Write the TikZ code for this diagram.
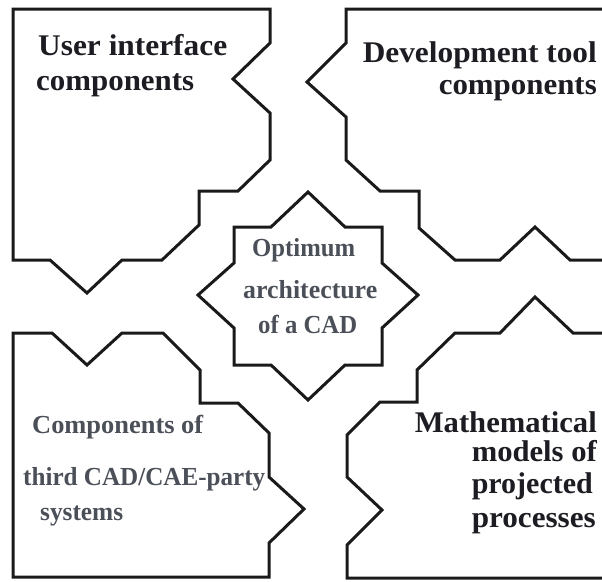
\documentclass[tikz,border=0pt]{standalone}
\usepackage{fontspec}
\setmainfont{Liberation Serif}
\usepackage{graphicx}
\newcommand\fitw[2]{\resizebox{#1pt}{\height}{#2}}
\definecolor{ink}{HTML}{1C1C22}
\definecolor{grayink}{HTML}{4B4F58}
\definecolor{edge}{HTML}{1A1A1A}
\tikzset{
  piece/.style={draw=edge, line width=3pt, line join=miter},
  bigtxt/.style={inner sep=0pt, text=ink, font=\bfseries\fontsize{30}{30}\selectfont},
  midtxt/.style={inner sep=0pt, text=grayink, font=\bfseries\fontsize{26}{26}\selectfont},
}
\begin{document}
\begin{tikzpicture}[x=1pt,y=-1pt]
\useasboundingbox (0,0) rectangle (602,581);
\clip (0,0) rectangle (602,581);
% top-left piece
\draw[piece] (13,9) -- (270,9) -- (270,43) -- (233,79) -- (270,113) -- (270,160) -- (238,191) -- (199,191) -- (199,225) -- (162,260) -- (122,260) -- (87,293) -- (50,260) -- (13,260) -- cycle;
% top-right piece
\draw[piece] (620,9) -- (346,9) -- (346,43) -- (307,82) -- (346,117) -- (346,160) -- (380,191) -- (419,191) -- (419,228) -- (455,260) -- (500,260) -- (535,227) -- (570,260) -- (620,260);
% centre star
\draw[piece] (308,192) -- (345,227) -- (382,227) -- (382,263) -- (418,295) -- (382,328) -- (382,365) -- (345,365) -- (308,400) -- (271,365) -- (234,365) -- (234,328) -- (198,295) -- (234,263) -- (234,227) -- (271,227) -- cycle;
% bottom-left piece
\draw[piece] (13,333) -- (52,333) -- (87,365) -- (122,333) -- (163,333) -- (200,370) -- (200,403) -- (238,403) -- (269,433) -- (269,477) -- (304,509) -- (269,543) -- (269,577) -- (13,577) -- cycle;
% bottom-right piece
\draw[piece] (620,333) -- (573,333) -- (535,297) -- (500,333) -- (455,333) -- (417,370) -- (417,402) -- (380,402) -- (347,435) -- (347,477) -- (382,510) -- (347,545) -- (347,578) -- (620,578);
% texts
\node[bigtxt, anchor=base west] (ui1) at (38,55) {\fitw{189}{User interface}};
\node[bigtxt, anchor=base west] (ui2) at (36,90) {\fitw{158}{components}};
\node[bigtxt, anchor=base east] (dt1) at (597,62) {\fitw{234}{Development tool}};
\node[bigtxt, anchor=base east] (dt2) at (597,94) {\fitw{158}{components}};
\node[midtxt, anchor=base west] (oa1) at (252,256) {\fitw{103}{Optimum}};
\node[midtxt, anchor=base west] (oa2) at (243,298) {\fitw{134}{architecture}};
\node[midtxt, anchor=base west] (oa3) at (258,333) {\fitw{99}{of a CAD}};
\node[midtxt, anchor=base west] (tp1) at (32,433) {\fitw{171}{Components of}};
\node[midtxt, anchor=base west] (tp2) at (23,485) {\fitw{242}{third CAD/CAE-party}};
\node[midtxt, anchor=base west] (tp3) at (40,520) {\fitw{83}{systems}};
\node[bigtxt, anchor=base east] (mm1) at (597,432) {\fitw{182}{Mathematical}};
\node[bigtxt, anchor=base east] (mm2) at (597,461) {\fitw{125}{models of}};
\node[bigtxt, anchor=base east] (mm3) at (593,493) {\fitw{121}{projected}};
\node[bigtxt, anchor=base east] (mm4) at (596,527) {\fitw{124}{processes}};
\end{tikzpicture}
\end{document}
